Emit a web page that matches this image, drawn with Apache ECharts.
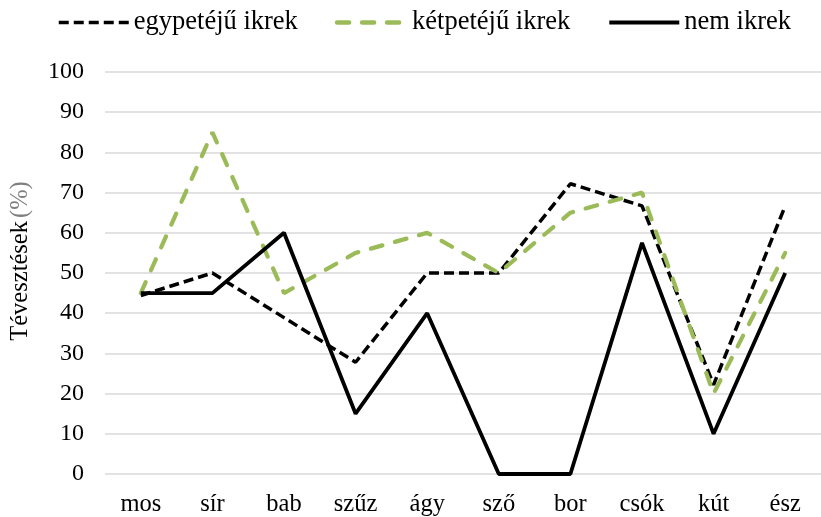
<!DOCTYPE html>
<html>
<head>
<meta charset="utf-8">
<script src="https://cdn.jsdelivr.net/npm/echarts@6/dist/echarts.min.js"></script>
<style>html,body{margin:0;padding:0;background:#fff}#c{width:821px;height:517px}</style>
</head>
<body>
<div id="c"></div>
<script>
var categories = ['mos','sír','bab','szűz','ágy','sző','bor','csók','kút','ész'];
var egypeteju = [44.4, 50, 38.9, 27.8, 50, 50, 72.2, 66.7, 22.2, 66.7];
var ketpeteju = [45, 85, 45, 55, 60, 50, 65, 70, 20, 55];
var nemIkrek = [45, 45, 60, 15, 40, 0, 0, 57.5, 10, 50];
var yTicks = [0,10,20,30,40,50,60,70,80,90,100];

var FONT = '"Liberation Serif", "Times New Roman", serif';
var chart = echarts.init(document.getElementById('c'), null, {renderer:'canvas'});
chart.setOption({
  animation:false,
  backgroundColor:'#fff',
  textStyle:{fontFamily:FONT},
  legend:{
    top:4, left:52, itemGap:37, itemWidth:70, itemHeight:14,
    itemStyle:{opacity:0, color:'rgba(0,0,0,0)', borderWidth:0},
    data:[
      {name:'egypetéjű ikrek', lineStyle:{width:3.5}},
      {name:'kétpetéjű ikrek', lineStyle:{width:4.5}},
      {name:'nem ikrek', lineStyle:{width:4}}
    ],
    textStyle:{fontFamily:FONT, fontSize:26.5, color:'#000'}
  },
  grid:{left:103, top:72, width:726, height:402},
  xAxis:{
    type:'category', data:categories, boundaryGap:true,
    axisLine:{show:false}, axisTick:{show:false},
    axisLabel:{fontFamily:FONT, fontSize:24.5, color:'#000', margin:18}
  },
  yAxis:{
    type:'value', min:yTicks[0], max:yTicks[yTicks.length-1], interval:10,
    axisLine:{show:false}, axisTick:{show:false},
    splitLine:{lineStyle:{color:'#d9d9d9', width:1.5}},
    axisLabel:{fontFamily:FONT, fontSize:24, color:'#000', margin:21},
    name:'{a|Tévesztések} {b|(%)}', nameLocation:'middle', nameGap:72, nameRotate:90,
    nameTextStyle:{padding:[0,0,0,24], rich:{a:{fontFamily:FONT,fontSize:24.5,color:'#000'}, b:{fontFamily:FONT,fontSize:24.5,color:'#7f7f7f'}}}
  },
  series:[
    {name:'egypetéjű ikrek', type:'line', data:egypeteju, symbol:'none',
     lineStyle:{color:'#000', width:3.5, type:[10,5]}, itemStyle:{color:'#000'}},
    {name:'kétpetéjű ikrek', type:'line', data:ketpeteju, symbol:'none',
     lineStyle:{color:'#9bbb59', width:4.2, type:[12,13], cap:'round'}, itemStyle:{color:'#9bbb59'}},
    {name:'nem ikrek', type:'line', data:nemIkrek, symbol:'none',
     lineStyle:{color:'#000', width:3.8}, itemStyle:{color:'#000'}}
  ]
});
</script>
</body>
</html>
